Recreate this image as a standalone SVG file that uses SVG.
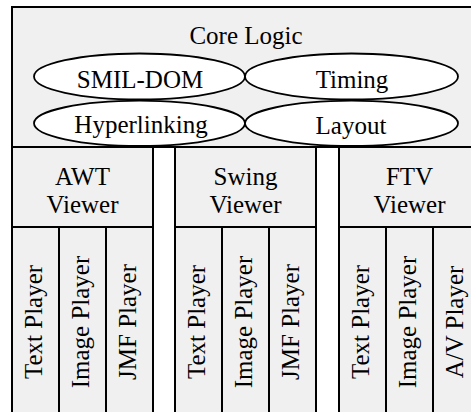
<svg xmlns="http://www.w3.org/2000/svg" width="471" height="412" viewBox="0 0 471 412">
  <style>
    .box { fill: #f0f0f0; stroke: #000; stroke-width: 2; }
    .oval { fill: #fff; stroke: #000; stroke-width: 1.8; }
    .lbl { font-size: 25px; fill: #000; text-anchor: middle; }
  </style>
  <rect x="0" y="0" width="471" height="412" fill="#fff"/>

  <g font-family="Liberation Serif, DejaVu Serif, serif">
  <!-- Core layer with its four modules -->
  <g id="core">
    <rect class="box" x="12" y="7" width="468" height="140"/>
    <text class="lbl" x="246" y="44">Core Logic</text>
  </g>
  <g id="smil-dom">
    <ellipse class="oval" cx="139.5" cy="76.5" rx="105.5" ry="23"/>
    <text class="lbl" x="140" y="88">SMIL-DOM</text>
  </g>
  <g id="timing">
    <ellipse class="oval" cx="351.5" cy="76.5" rx="106.5" ry="23"/>
    <text class="lbl" x="352" y="88">Timing</text>
  </g>
  <g id="hyperlinking">
    <ellipse class="oval" cx="139.5" cy="123.3" rx="105.5" ry="22.7"/>
    <text class="lbl" x="141" y="133">Hyperlinking</text>
  </g>
  <g id="layout">
    <ellipse class="oval" cx="351.5" cy="123.3" rx="106.5" ry="22.7"/>
    <text class="lbl" x="351" y="134">Layout</text>
  </g>

  <!-- AWT viewer and players -->
  <g id="awt-viewer">
    <rect class="box" x="12" y="147" width="141" height="80"/>
    <text class="lbl" x="82.5" y="185">AWT</text>
    <text class="lbl" x="82.5" y="213">Viewer</text>
  </g>
  <g id="awt-text">
    <rect class="box" x="12" y="227" width="47" height="200"/>
    <text class="lbl" transform="translate(42,322) rotate(-90)">Text Player</text>
  </g>
  <g id="awt-image">
    <rect class="box" x="59" y="227" width="47" height="200"/>
    <text class="lbl" transform="translate(89,322) rotate(-90)">Image Player</text>
  </g>
  <g id="awt-jmf">
    <rect class="box" x="106" y="227" width="47" height="200"/>
    <text class="lbl" transform="translate(136,322) rotate(-90)">JMF Player</text>
  </g>

  <!-- Swing viewer and players -->
  <g id="swing-viewer">
    <rect class="box" x="175" y="147" width="141" height="80"/>
    <text class="lbl" x="245.5" y="185">Swing</text>
    <text class="lbl" x="245.5" y="213">Viewer</text>
  </g>
  <g id="swing-text">
    <rect class="box" x="175" y="227" width="47" height="200"/>
    <text class="lbl" transform="translate(205,322) rotate(-90)">Text Player</text>
  </g>
  <g id="swing-image">
    <rect class="box" x="222" y="227" width="47" height="200"/>
    <text class="lbl" transform="translate(252,322) rotate(-90)">Image Player</text>
  </g>
  <g id="swing-jmf">
    <rect class="box" x="269" y="227" width="47" height="200"/>
    <text class="lbl" transform="translate(299,322) rotate(-90)">JMF Player</text>
  </g>

  <!-- FTV viewer and players -->
  <g id="ftv-viewer">
    <rect class="box" x="339" y="147" width="141" height="80"/>
    <text class="lbl" x="409.5" y="185">FTV</text>
    <text class="lbl" x="409.5" y="213">Viewer</text>
  </g>
  <g id="ftv-text">
    <rect class="box" x="339" y="227" width="47" height="200"/>
    <text class="lbl" transform="translate(369,322) rotate(-90)">Text Player</text>
  </g>
  <g id="ftv-image">
    <rect class="box" x="386" y="227" width="47" height="200"/>
    <text class="lbl" transform="translate(416,322) rotate(-90)">Image Player</text>
  </g>
  <g id="ftv-av">
    <rect class="box" x="433" y="227" width="47" height="200"/>
    <text class="lbl" transform="translate(463,322) rotate(-90)">A/V Player</text>
  </g>
  </g>
</svg>
